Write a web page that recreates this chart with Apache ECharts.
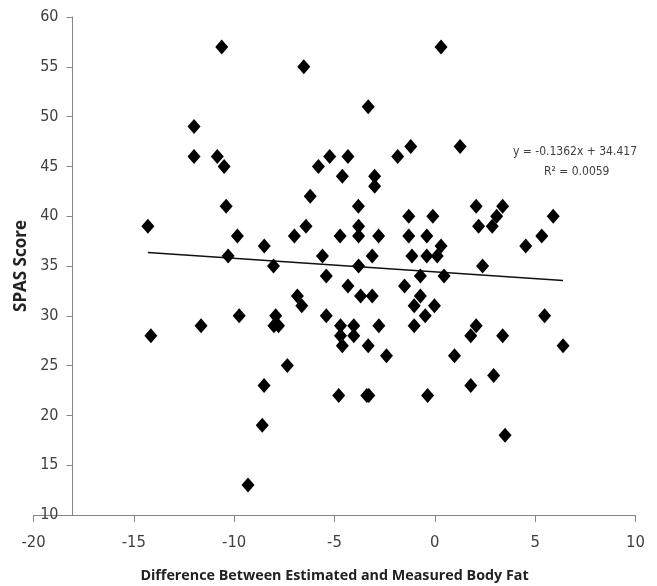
<!DOCTYPE html>
<html>
<head>
<meta charset="utf-8">
<script src="https://cdn.jsdelivr.net/npm/echarts@6/dist/echarts.min.js"></script>
<style>html,body{margin:0;padding:0;background:#fff;}#c{width:657px;height:586px;}</style>
</head>
<body>
<div id="c"></div>
<script>
// Difference between estimated and measured body fat (x)
const diffX = [-14.3,-14.15,-12.0,-12.0,-11.65,-10.62,-10.84,-10.5,-10.4,-10.3,-9.84,-9.75,-9.31,-8.6,-8.51,-8.5,-8.04,-7.93,-8.02,-7.79,-7.35,-7.0,-6.85,-6.63,-6.53,-6.42,-6.21,-5.8,-5.6,-5.41,-5.41,-5.24,-4.72,-4.7,-4.7,-4.61,-4.61,-4.79,-4.33,-4.33,-4.04,-4.04,-3.81,-3.8,-3.8,-3.8,-3.7,-3.32,-3.32,-3.39,-3.29,-3.12,-3.12,-3.0,-3.0,-2.8,-2.79,-2.41,-1.85,-1.51,-1.3,-1.3,-1.2,-1.14,-1.03,-1.03,-0.72,-0.72,-0.48,-0.4,-0.4,-0.36,-0.1,-0.02,0.12,0.31,0.31,0.46,0.98,1.26,1.79,1.79,2.06,2.06,2.18,2.38,2.86,2.93,3.08,3.38,3.38,3.5,4.53,5.33,5.47,5.9,6.39];
// SPAS score (y)
const spasY = [39,28,49,46,29,57,46,45,41,36,38,30,13,19,23,37,35,30,29,29,25,38,32,31,55,39,42,45,36,34,30,46,38,29,28,27,44,22,46,33,29,28,41,39,38,35,32,51,27,22,22,36,32,44,43,38,29,26,46,33,40,38,47,36,31,29,34,32,30,38,36,22,40,31,36,37,57,34,26,47,28,23,29,41,39,35,39,24,40,41,28,18,37,38,30,40,27];
// Linear trend line (Excel)
const slope = -0.1362;
const intercept = 34.417;
const equationLabel = 'y = -0.1362x + 34.417';
const r2Label = 'R\u00B2 = 0.0059';
const xTicks = { min: -20, max: 10, interval: 5 };
const yTicks = { min: 10, max: 60, interval: 5 };
const xTitle = 'Difference Between Estimated and Measured Body Fat';
const yTitle = 'SPAS Score';

const points = diffX.map((x, i) => [x, spasY[i]]);
const xLo = Math.min(...diffX), xHi = Math.max(...diffX);
const trend = [[xLo, slope * xLo + intercept], [xHi, slope * xHi + intercept]];

const axisColor = '#868686';
const labelColor = '#404040';
const font = '"Liberation Sans Narrow", "DejaVu Sans Condensed", "Open Sans", sans-serif';

const chart = echarts.init(document.getElementById('c'), null, { renderer: 'canvas' });
chart.setOption({
  animation: false,
  backgroundColor: '#fff',
  grid: { left: 33.5, right: 21.5, top: 17, bottom: 71, containLabel: false, outerBoundsMode: 'none' },
  xAxis: {
    type: 'value', min: xTicks.min, max: xTicks.max, interval: xTicks.interval,
    name: xTitle, nameLocation: 'middle', nameGap: 54,
    nameTextStyle: { fontFamily: '"Open Sans", sans-serif', fontWeight: 'bold', fontSize: 14.3, color: '#222' },
    axisLine: { onZero: false, lineStyle: { color: axisColor, width: 1 } },
    axisTick: { show: true, length: 7, lineStyle: { color: axisColor } },
    axisLabel: { color: labelColor, fontSize: 16.5, fontFamily: font, margin: 19 },
    splitLine: { show: false }
  },
  yAxis: {
    type: 'value', min: yTicks.min, max: yTicks.max, interval: yTicks.interval,
    offset: -39,
    name: yTitle, nameLocation: 'middle', nameGap: 38,
    nameTextStyle: { fontFamily: '"Open Sans", sans-serif', fontWeight: 'bold', fontSize: 17, color: '#222' },
    axisLine: { show: true, onZero: false, lineStyle: { color: axisColor, width: 1 } },
    axisTick: { show: true, length: 6, lineStyle: { color: axisColor } },
    axisLabel: { color: labelColor, fontSize: 16, fontFamily: font, margin: 14 },
    splitLine: { show: false }
  },
  graphic: [
    { type: 'text', left: 513, top: 146, style: { text: equationLabel, fill: labelColor, font: '12px ' + font } },
    { type: 'text', left: 544, top: 166, style: { text: r2Label, fill: labelColor, font: '12px ' + font } }
  ],
  series: [
    {
      type: 'scatter', data: points, symbol: 'diamond', symbolSize: [13, 15],
      itemStyle: { color: '#000', opacity: 1 }, z: 3
    },
    {
      type: 'line', data: trend, symbol: 'none', lineStyle: { color: '#111', width: 1.5 }, z: 2
    }
  ]
});
</script>
</body>
</html>
